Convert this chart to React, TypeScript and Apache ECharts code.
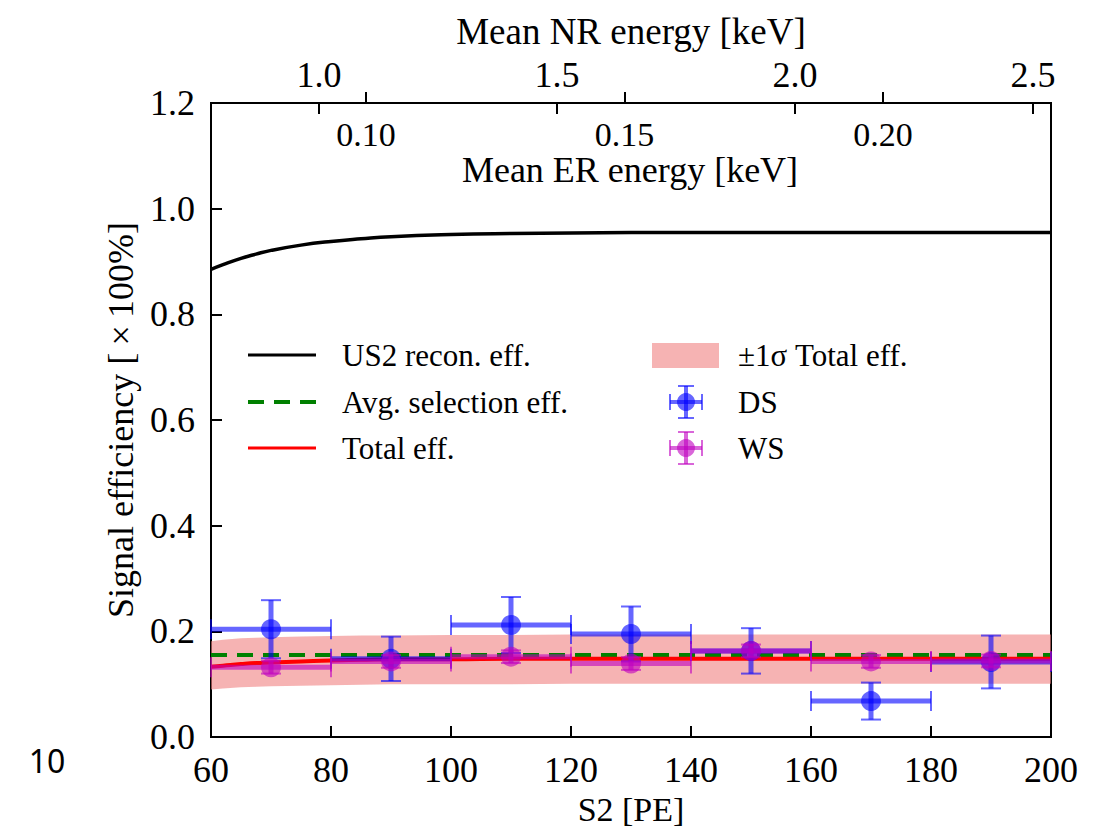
import React, { useEffect, useRef } from "react";
import * as echarts from "echarts";

// ---- data ----
const s2Bins = [70, 90, 110, 130, 150, 170, 190];
const s2HalfWidth = [10, 10, 10, 10, 10, 10, 10];
const dsEff = [0.204, 0.148, 0.212, 0.195, 0.163, 0.068, 0.142];
const dsErr = [0.055, 0.042, 0.053, 0.052, 0.043, 0.035, 0.05];
const wsEff = [0.132, 0.143, 0.152, 0.139, 0.163, 0.143, 0.144];
const wsErr = [0.012, 0.012, 0.012, 0.012, 0.012, 0.012, 0.012];

const curveS2 = [60, 62, 65, 67.5, 70, 75, 80, 85, 90, 100, 110, 120, 140, 160, 200];
const us2Recon = [0.885, 0.894, 0.906, 0.914, 0.921, 0.931, 0.938, 0.943, 0.947, 0.951, 0.953, 0.954, 0.955, 0.955, 0.955];
const totalEff = [0.133, 0.135, 0.138, 0.14, 0.141, 0.143, 0.145, 0.146, 0.147, 0.147, 0.148, 0.148, 0.148, 0.148, 0.148];
const bandUpper = [0.181, 0.184, 0.187, 0.188, 0.189, 0.19, 0.191, 0.192, 0.192, 0.193, 0.193, 0.194, 0.194, 0.194, 0.194];
const bandLower = [0.09, 0.092, 0.094, 0.095, 0.096, 0.097, 0.098, 0.099, 0.1, 0.1, 0.1, 0.101, 0.101, 0.101, 0.101];
const avgSelS2 = [60, 200];
const avgSelEff = [0.155, 0.155];

const yTicks = { min: 0, max: 1.2, interval: 0.2 };
const s2Ticks = { min: 60, max: 200, interval: 20 };
const nrRange = [0.773, 2.538];
const nrTicks = [1.0, 1.5, 2.0, 2.5];
const erRange = [0.07, 0.2325];
const erTicks = [0.1, 0.15, 0.2];

const SERIF = "'Liberation Serif', 'DejaVu Serif', serif";
const DS_COLOR = "rgba(0,0,255,0.6)";
const WS_COLOR = "rgba(191,0,191,0.6)";
const BAND_COLOR = "rgba(240,128,128,0.6)";

function errorBarRender(color: string) {
  return (params: any, api: any) => {
    const x = api.value(0);
    const y = api.value(1);
    const xe = api.value(2);
    const ye = api.value(3);
    const c = api.coord([x, y]);
    const l = api.coord([x - xe, y]);
    const r = api.coord([x + xe, y]);
    const t = api.coord([x, y + ye]);
    const b = api.coord([x, y - ye]);
    const cap = 10;
    const lineStyle = { stroke: color, lineWidth: 5 };
    const capStyle = { stroke: color, lineWidth: 2 };
    return {
      type: "group",
      children: [
        { type: "line", shape: { x1: l[0], y1: l[1], x2: r[0], y2: r[1] }, style: lineStyle },
        { type: "line", shape: { x1: t[0], y1: t[1], x2: b[0], y2: b[1] }, style: lineStyle },
        { type: "line", shape: { x1: l[0], y1: l[1] - cap, x2: l[0], y2: l[1] + cap }, style: capStyle },
        { type: "line", shape: { x1: r[0], y1: r[1] - cap, x2: r[0], y2: r[1] + cap }, style: capStyle },
        { type: "line", shape: { x1: t[0] - cap, y1: t[1], x2: t[0] + cap, y2: t[1] }, style: capStyle },
        { type: "line", shape: { x1: b[0] - cap, y1: b[1], x2: b[0] + cap, y2: b[1] }, style: capStyle },
        { type: "circle", shape: { cx: c[0], cy: c[1], r: 10 }, style: { fill: color } },
      ],
    };
  };
}

function legendErrIcon(cx: number, cy: number, color: string) {
  const a = 16;
  const cap = 8;
  return [
    { type: "line", shape: { x1: cx - a, y1: cy, x2: cx + a, y2: cy }, style: { stroke: color, lineWidth: 4 } },
    { type: "line", shape: { x1: cx, y1: cy - a, x2: cx, y2: cy + a }, style: { stroke: color, lineWidth: 4 } },
    { type: "line", shape: { x1: cx - a, y1: cy - cap, x2: cx - a, y2: cy + cap }, style: { stroke: color, lineWidth: 2 } },
    { type: "line", shape: { x1: cx + a, y1: cy - cap, x2: cx + a, y2: cy + cap }, style: { stroke: color, lineWidth: 2 } },
    { type: "line", shape: { x1: cx - cap, y1: cy - a, x2: cx + cap, y2: cy - a }, style: { stroke: color, lineWidth: 2 } },
    { type: "line", shape: { x1: cx - cap, y1: cy + a, x2: cx + cap, y2: cy + a }, style: { stroke: color, lineWidth: 2 } },
    { type: "circle", shape: { cx, cy, r: 9 }, style: { fill: color } },
  ];
}

function legendText(text: string, x: number, y: number) {
  return {
    type: "text",
    x,
    y,
    style: { text, fontSize: 31, fontFamily: SERIF, fill: "#000", align: "left", verticalAlign: "middle" },
  };
}

export default function App() {
  const ref = useRef<HTMLDivElement>(null);
  useEffect(() => {
    if (!ref.current) return;
    const chart = echarts.init(ref.current, null, { renderer: "svg" });

    const curve = (vals: number[]) => curveS2.map((x, i) => [x, vals[i]]);
    const bandData = curveS2.map((x, i) => [x, bandLower[i], bandUpper[i]]);
    const dsData = s2Bins.map((x, i) => [x, dsEff[i], s2HalfWidth[i], dsErr[i]]);
    const wsData = s2Bins.map((x, i) => [x, wsEff[i], s2HalfWidth[i], wsErr[i]]);

    const tickLabelStyle = { color: "#000", fontSize: 36, fontFamily: SERIF };
    const nameStyle = { color: "#000", fontSize: 37, fontFamily: SERIF };

    chart.setOption({
      animation: false,
      backgroundColor: "#fff",
      grid: {
        left: 211,
        right: 46,
        top: 103,
        bottom: 91,
        containLabel: false,
        outerBoundsMode: "none",
        show: true,
        borderColor: "#000",
        borderWidth: 2,
        backgroundColor: "transparent",
      },
      xAxis: [
        {
          type: "value",
          position: "bottom",
          min: s2Ticks.min,
          max: s2Ticks.max,
          interval: s2Ticks.interval,
          axisLine: { show: false },
          axisTick: { show: true, inside: true, length: 11, lineStyle: { color: "#000", width: 2 } },
          axisLabel: { ...tickLabelStyle, margin: 15 },
          splitLine: { show: false },
          name: "S2 [PE]",
          nameLocation: "middle",
          nameGap: 48,
          nameTextStyle: { ...nameStyle, fontSize: 34 },
        },
        {
          type: "value",
          position: "top",
          min: nrRange[0],
          max: nrRange[1],
          axisLine: { show: false },
          axisTick: { show: true, inside: true, length: 11, customValues: nrTicks, lineStyle: { color: "#000", width: 2 } },
          axisLabel: { ...tickLabelStyle, margin: 10, customValues: nrTicks, formatter: (v: number) => v.toFixed(1) },
          splitLine: { show: false },
          name: "Mean NR energy [keV]",
          nameLocation: "middle",
          nameGap: 53,
          nameTextStyle: nameStyle,
        },
        {
          type: "value",
          position: "top",
          min: erRange[0],
          max: erRange[1],
          axisLine: { show: false },
          axisTick: { show: true, inside: false, length: 11, customValues: erTicks, lineStyle: { color: "#000", width: 2 } },
          axisLabel: {
            ...tickLabelStyle,
            fontSize: 34,
            inside: true,
            margin: 14,
            customValues: erTicks,
            formatter: (v: number) => v.toFixed(2),
          },
          splitLine: { show: false },
        },
      ],
      yAxis: [
        {
          type: "value",
          min: yTicks.min,
          max: yTicks.max,
          interval: yTicks.interval,
          axisLine: { show: false },
          axisTick: { show: true, inside: true, length: 11, lineStyle: { color: "#000", width: 2 } },
          axisLabel: { ...tickLabelStyle, margin: 16, formatter: (v: number) => v.toFixed(1) },
          splitLine: { show: false },
          name: "Signal efficiency [\u2009×\u2009100%]",
          nameLocation: "middle",
          nameGap: 71,
          nameTextStyle: { ...nameStyle, fontSize: 36 },
        },
      ],
      series: [
        {
          type: "custom",
          name: "±1σ Total eff.",
          xAxisIndex: 0,
          yAxisIndex: 0,
          z: 1,
          data: bandData,
          encode: { x: 0, y: [1, 2] },
          renderItem: (params: any, api: any) => {
            if (params.dataIndex !== 0) return null;
            const upper = bandData.map((d) => api.coord([d[0], d[2]]));
            const lower = bandData.map((d) => api.coord([d[0], d[1]])).reverse();
            return {
              type: "polygon",
              shape: { points: upper.concat(lower) },
              style: { fill: BAND_COLOR },
            };
          },
        },
        {
          type: "line",
          name: "US2 recon. eff.",
          data: curve(us2Recon),
          smooth: true,
          symbol: "none",
          z: 2,
          lineStyle: { color: "#000", width: 3.5 },
        },
        {
          type: "line",
          name: "Avg. selection eff.",
          data: avgSelS2.map((x, i) => [x, avgSelEff[i]]),
          symbol: "none",
          z: 3,
          lineStyle: { color: "#008000", width: 4, type: [16, 10] },
        },
        {
          type: "line",
          name: "Total eff.",
          data: curve(totalEff),
          smooth: true,
          symbol: "none",
          z: 3,
          lineStyle: { color: "#ff0000", width: 4 },
        },
        {
          type: "custom",
          name: "DS",
          z: 4,
          data: dsData,
          encode: { x: 0, y: 1 },
          renderItem: errorBarRender(DS_COLOR),
        },
        {
          type: "custom",
          name: "WS",
          z: 5,
          data: wsData,
          encode: { x: 0, y: 1 },
          renderItem: errorBarRender(WS_COLOR),
        },
      ],
      graphic: [
        {
          type: "text",
          x: 630,
          y: 170,
          style: {
            text: "Mean ER energy [keV]",
            fontSize: 36,
            fontFamily: SERIF,
            fill: "#000",
            align: "center",
            verticalAlign: "middle",
          },
        },
        {
          type: "text",
          x: 47,
          y: 760,
          style: { text: "10", fontSize: 32, fontFamily: "'Noto Sans', sans-serif", fill: "#000", align: "center", verticalAlign: "middle" },
        },
        // legend, column 1
        { type: "line", shape: { x1: 248, y1: 355, x2: 316, y2: 355 }, style: { stroke: "#000", lineWidth: 3 } },
        legendText("US2 recon. eff.", 342, 355),
        { type: "line", shape: { x1: 248, y1: 402, x2: 316, y2: 402 }, style: { stroke: "#008000", lineWidth: 4, lineDash: [16, 10] } },
        legendText("Avg. selection eff.", 342, 402),
        { type: "line", shape: { x1: 248, y1: 448, x2: 316, y2: 448 }, style: { stroke: "#ff0000", lineWidth: 3 } },
        legendText("Total eff.", 342, 448),
        // legend, column 2
        { type: "rect", shape: { x: 652, y: 343, width: 67, height: 25 }, style: { fill: BAND_COLOR } },
        legendText("±1σ Total eff.", 738, 355),
        ...legendErrIcon(686, 402, DS_COLOR),
        legendText("DS", 738, 402),
        ...legendErrIcon(686, 448, WS_COLOR),
        legendText("WS", 738, 448),
      ],
    });
    return () => chart.dispose();
  }, []);
  return (
    <div
      ref={ref}
      style={{ position: "fixed", left: 0, top: 0, width: 1097, height: 828, background: "#fff" }}
    />
  );
}
